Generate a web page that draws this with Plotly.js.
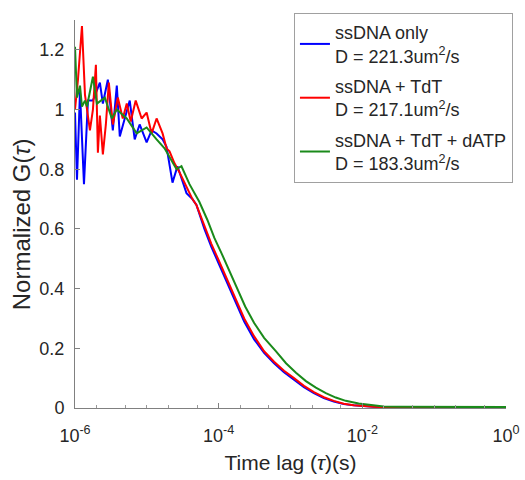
<!DOCTYPE html>
<html>
<head>
<meta charset="utf-8">
<script src="https://cdn.plot.ly/plotly-3.0.1.min.js"></script>
<style>html,body{margin:0;padding:0;background:#fff;}#chart{width:525px;height:480px;}</style>
</head>
<body>
<div id="chart"></div>
<script>
// ssDNA only (blue)
var tauBlue = [1.000e-6, 1.066e-6, 1.173e-6, 1.333e-6, 1.514e-6, 1.776e-6, 2.220e-6, 2.443e-6, 2.866e-6, 3.362e-6,
  3.819e-6, 4.203e-6, 5.779e-6, 6.778e-6, 7.947e-6, 9.935e-6, 1.166e-5, 1.367e-5, 1.656e-5, 1.881e-5,
  2.277e-5, 2.671e-5, 3.565e-5, 4.316e-5, 4.903e-5, 6.33e-5, 7.91e-5, 1.021e-4, 1.318e-4, 1.701e-4,
  2.266e-4, 3.12e-4, 4.29e-4, 5.91e-4, 8.12e-4, 1.118e-3, 1.538e-3, 2.116e-3, 2.911e-3, 4.005e-3,
  5.51e-3, 7.58e-3, 1.043e-2, 1.435e-2, 1.974e-2, 3.19e-2, 6.03e-2, 0.1141, 0.2163, 0.409, 0.774, 1.0];
var gBlue = [0.99, 0.765, 1.06, 0.75, 1.03, 1.03, 1.09, 1.02, 1.10, 0.93,
  1.08, 0.91, 1.03, 0.90, 0.95, 0.89, 0.93, 0.92, 0.90, 0.875,
  0.755, 0.81, 0.72, 0.70, 0.68, 0.60, 0.54, 0.48, 0.42, 0.36,
  0.29, 0.23, 0.185, 0.15, 0.12, 0.095, 0.07, 0.05, 0.033, 0.022,
  0.013, 0.009, 0.006, 0.004, 0.003, 0.003, 0.003, 0.002, 0.003, 0.002, 0.003, 0.002];

// ssDNA + TdT (red)
var tauRed = [1.000e-6, 1.100e-6, 1.250e-6, 1.376e-6, 1.614e-6, 1.776e-6, 1.954e-6, 2.083e-6, 2.220e-6, 2.443e-6,
  2.689e-6, 2.959e-6, 3.362e-6, 3.943e-6, 4.625e-6, 5.254e-6, 5.967e-6, 6.998e-6, 8.471e-6, 9.935e-6,
  1.166e-5, 1.367e-5, 1.656e-5, 1.881e-5, 2.070e-5, 2.427e-5, 2.847e-5, 3.565e-5, 4.316e-5, 4.903e-5,
  6.33e-5, 7.91e-5, 1.021e-4, 1.318e-4, 1.701e-4, 2.266e-4, 3.12e-4, 4.29e-4, 5.91e-4, 8.12e-4,
  1.118e-3, 1.538e-3, 2.116e-3, 2.911e-3, 4.005e-3, 5.51e-3, 7.58e-3, 1.043e-2, 1.435e-2, 1.974e-2,
  3.19e-2, 6.03e-2, 0.1141, 0.2163, 0.409, 0.774, 1.0];
var gRed = [1.00, 1.10, 1.28, 1.05, 0.93, 1.00, 1.15, 0.855, 0.98, 0.85,
  0.95, 1.09, 0.95, 1.04, 0.97, 1.02, 0.96, 1.03, 0.97, 0.99,
  0.92, 0.97, 0.92, 0.87, 0.86, 0.82, 0.79, 0.74, 0.70, 0.68,
  0.61, 0.55, 0.49, 0.43, 0.37, 0.30, 0.24, 0.19, 0.155, 0.125,
  0.10, 0.074, 0.053, 0.036, 0.024, 0.014, 0.009, 0.006, 0.004, 0.003,
  0.003, 0.002, 0.003, 0.002, 0.003, 0.002, 0.002];

// ssDNA + TdT + dATP (green)
var tauGreen = [1.000e-6, 1.066e-6, 1.173e-6, 1.250e-6, 1.376e-6, 1.467e-6, 1.776e-6, 2.018e-6, 2.604e-6, 3.256e-6,
  3.819e-6, 5.254e-6, 7.224e-6, 9.935e-6, 1.367e-5, 1.765e-5, 2.587e-5, 3.035e-5, 3.923e-5, 5.396e-5,
  6.97e-5, 8.71e-5, 1.089e-4, 1.405e-4, 1.813e-4, 2.34e-4, 3.12e-4, 4.29e-4, 6.29e-4, 8.66e-4,
  1.192e-3, 1.640e-3, 2.256e-3, 3.104e-3, 4.27e-3, 5.87e-3, 8.89e-3, 1.304e-2, 1.974e-2, 3.19e-2,
  6.03e-2, 0.1141, 0.2163, 0.409, 0.774, 1.0];
var gGreen = [1.21, 1.04, 1.08, 1.01, 1.03, 1.01, 1.11, 1.02, 1.04, 0.97,
  1.00, 0.97, 0.92, 0.94, 0.90, 0.87, 0.80, 0.81, 0.75, 0.69,
  0.63, 0.57, 0.52, 0.46, 0.40, 0.34, 0.285, 0.235, 0.19, 0.15,
  0.118, 0.09, 0.068, 0.05, 0.035, 0.024, 0.015, 0.009, 0.005, 0.004,
  0.004, 0.003, 0.004, 0.003, 0.003, 0.003];

var seriesNames = [
  "ssDNA only<br>D = 221.3um<sup>2</sup>/s",
  "ssDNA + TdT<br>D = 217.1um<sup>2</sup>/s",
  "ssDNA + TdT + dATP<br>D = 183.3um<sup>2</sup>/s"
];
var seriesColors = ["#0000ff", "#ff0000", "#1a8a1a"];

var xTickVals = [1e-6, 1e-4, 1e-2, 1];
var xTickText = ["10<sup>-6</sup>", "10<sup>-4</sup>", "10<sup>-2</sup>", "10<sup>0</sup>"];
var yTickVals = [0, 0.2, 0.4, 0.6, 0.8, 1, 1.2];
var yTickText = ["0", "0.2", "0.4", "0.6", "0.8", "1", "1.2"];
var yTitle = "Normalized G(<i>τ</i>)";
var xTitle = "Time lag (<i>τ</i>)(s)";

var xs = [tauBlue, tauRed, tauGreen];
var ys = [gBlue, gRed, gGreen];
var traces = [];
for (var i = 0; i < 3; i++) {
  traces.push({
    x: xs[i], y: ys[i], type: "scatter", mode: "lines",
    name: seriesNames[i], legendgroup: "g" + i,
    line: {color: seriesColors[i], width: 2}
  });
}

var fontFam = "Liberation Sans, Arial, sans-serif";
var layout = {
  width: 525, height: 480,
  margin: {l: 75, r: 17, t: 20, b: 72},
  paper_bgcolor: "#fff", plot_bgcolor: "#fff",
  font: {family: fontFam, color: "#262626", size: 18},
  showlegend: true,
  legend: {
    x: 0.508, y: 1.018, xanchor: "left", yanchor: "top",
    bgcolor: "#fff", bordercolor: "#a0a0a0", borderwidth: 1,
    font: {family: fontFam, size: 18, color: "#262626"},
    itemwidth: 30, tracegroupgap: 4
  },
  xaxis: {
    type: "log", range: [-6, 0],
    tickmode: "array", tickvals: xTickVals, ticktext: xTickText,
    ticks: "inside", ticklen: 5, tickcolor: "#808080",
    minor: {ticks: "inside", ticklen: 3, tickcolor: "#999", showgrid: false},
    showline: true, linecolor: "#808080", linewidth: 1,
    showgrid: false, zeroline: false,
    ticklabelstandoff: 11,
    tickfont: {size: 18, color: "#262626"},
    title: {text: xTitle, font: {size: 21, color: "#262626"}, standoff: 10}
  },
  yaxis: {
    range: [0, 1.3],
    tickmode: "array", tickvals: yTickVals, ticktext: yTickText,
    ticks: "inside", ticklen: 5, tickcolor: "#808080",
    showline: true, linecolor: "#808080", linewidth: 1,
    showgrid: false, zeroline: false,
    ticklabelstandoff: 6,
    tickfont: {size: 18, color: "#262626"}
  },
  annotations: [{
    text: yTitle, xref: "paper", yref: "paper",
    x: -0.125, y: 0.474, xanchor: "center", yanchor: "middle",
    textangle: -90, showarrow: false,
    font: {family: fontFam, size: 24, color: "#262626"}
  }]
};

Plotly.newPlot("chart", traces, layout, {displayModeBar: false, staticPlot: true});
</script>
</body>
</html>
